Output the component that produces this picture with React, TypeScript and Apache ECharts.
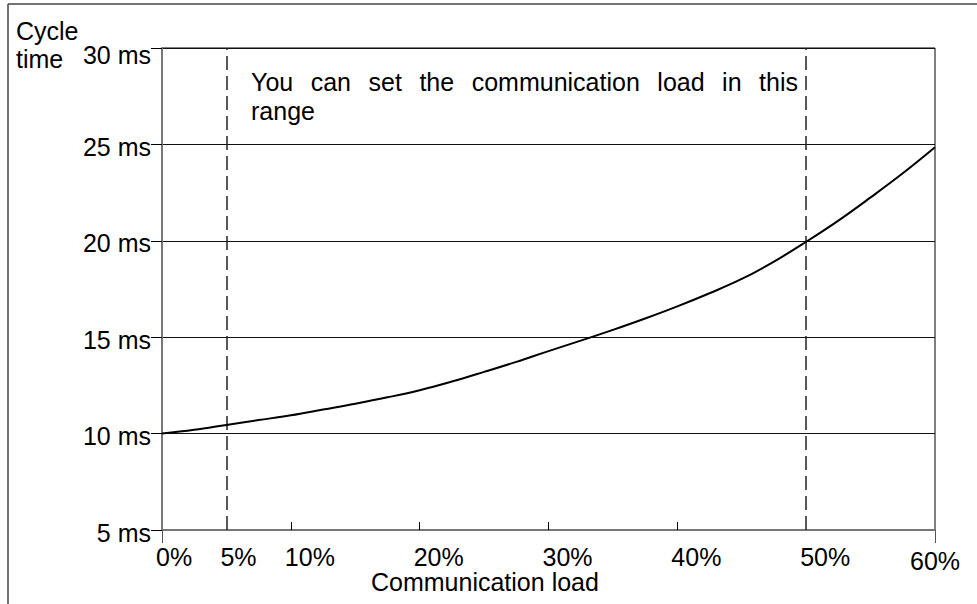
import React, { useEffect, useRef } from "react";
import * as echarts from "echarts";

const FONT = '"Liberation Sans", Arial, Helvetica, sans-serif';

// Communication load (%) and cycle time (ms)
const loadPct = [0, 2.5, 5, 7.5, 10, 12.5, 15, 17.5, 20, 22.5, 25, 27.5, 30, 32.5, 35, 37.5, 40, 42.5, 45, 47.5, 50, 52.5, 55, 57.5, 60];
const cycleMs = [10.0, 10.2, 10.45, 10.7, 10.95, 11.25, 11.55, 11.88, 12.25, 12.7, 13.2, 13.72, 14.28, 14.82, 15.38, 15.97, 16.6, 17.28, 18.02, 18.92, 19.95, 21.05, 22.25, 23.5, 24.85];

// Settable range boundaries
const rangeBounds = [5, 50];

// Tick labels
const xLabelValues = [0, 5, 10, 20, 30, 40, 50];
const xLastLabel = [60];
const xInnerTicks = [10, 20, 30, 40];
const xOuterTicks = [0, 60];
const yMin = 5;
const yMax = 30;
const yStep = 5;

const annotationLine1 = ["You", "can", "set", "the", "communication", "load", "in", "this"];
const annotationLine2 = "range";

export default function App() {
  const ref = useRef<HTMLDivElement>(null);

  useEffect(() => {
    if (!ref.current) return;
    const chart = echarts.init(ref.current, null, { renderer: "svg" });

    const fs = 25;
    const canvas = document.createElement("canvas");
    const ctx = canvas.getContext("2d")!;
    ctx.font = `${fs}px ${FONT}`;
    const widths = annotationLine1.map((w) => ctx.measureText(w).width);
    const lineStart = 251;
    const lineEnd = 798;
    const total = widths.reduce((a, b) => a + b, 0);
    const gap = (lineEnd - lineStart - total) / (annotationLine1.length - 1);
    const wordEls: any[] = [];
    let cx = lineStart;
    annotationLine1.forEach((w, i) => {
      wordEls.push({
        type: "text",
        x: cx,
        y: 82,
        style: { text: w, fontSize: fs, fontFamily: FONT, fill: "#000", align: "left", verticalAlign: "middle" },
      });
      cx += widths[i] + gap;
    });
    wordEls.push({
      type: "text",
      x: lineStart,
      y: 111,
      style: { text: annotationLine2, fontSize: fs, fontFamily: FONT, fill: "#000", align: "left", verticalAlign: "middle" },
    });

    const data = loadPct.map((x, i) => [x, cycleMs[i]]);

    chart.setOption({
      animation: false,
      backgroundColor: "#fff",
      grid: {
        left: 162,
        right: 42,
        top: 48,
        bottom: 74,
        show: true,
        borderColor: "#000",
        borderWidth: 1,
        backgroundColor: "transparent",
      },
      xAxis: [
        {
          type: "value",
          min: 0,
          max: 60,
          position: "bottom",
          axisLine: { show: true, onZero: false, lineStyle: { color: "#777", width: 2 } },
          axisTick: { show: true, inside: true, length: 8, customValues: xInnerTicks, lineStyle: { color: "#000", width: 1 } },
          axisLabel: {
            show: true,
            customValues: xLabelValues,
            formatter: (v: number) => `${v}%`,
            align: "left",
            padding: [0, 0, 0, -6],
            margin: 14,
            fontSize: fs,
            fontFamily: FONT,
            color: "#000",
          },
          splitLine: { show: false },
        },
        {
          type: "value",
          min: 0,
          max: 60,
          position: "bottom",
          axisLine: { show: false, onZero: false },
          axisTick: { show: true, inside: false, length: 13, customValues: xOuterTicks, lineStyle: { color: "#555", width: 1 } },
          axisLabel: {
            show: true,
            customValues: xLastLabel,
            formatter: (v: number) => `${v}%`,
            align: "center",
            margin: 18,
            fontSize: fs,
            fontFamily: FONT,
            color: "#000",
          },
          splitLine: { show: false },
        },
      ],
      yAxis: {
        type: "value",
        min: yMin,
        max: yMax,
        interval: yStep,
        axisLine: { show: true, lineStyle: { color: "#777", width: 2 } },
        axisTick: { show: true, inside: false, length: 11, lineStyle: { color: "#000", width: 1 } },
        splitLine: { show: true, lineStyle: { color: "#111", width: 1 } },
        axisLabel: {
          margin: 11,
          formatter: (v: number) => (v === yMax ? `{t|${v} ms}` : `{n|${v} ms}`),
          rich: {
            t: { fontSize: fs, fontFamily: FONT, color: "#000", padding: [14, 0, 0, 0] },
            n: { fontSize: fs, fontFamily: FONT, color: "#000", padding: [5, 0, 0, 0] },
          },
        },
      },
      series: [
        {
          type: "line",
          data,
          xAxisIndex: 0,
          showSymbol: false,
          smooth: 0.4,
          lineStyle: { color: "#000", width: 2 },
          z: 5,
          markLine: {
            silent: true,
            symbol: "none",
            label: { show: false },
            lineStyle: { color: "#222", width: 1.5, type: [14, 6] },
            data: rangeBounds.map((b) => ({ xAxis: b })),
          },
        },
      ],
      graphic: [
        { type: "line", shape: { x1: 8, y1: 4, x2: 977, y2: 4 }, style: { stroke: "#444", lineWidth: 1.5 } },
        { type: "line", shape: { x1: 8, y1: 4, x2: 8, y2: 604 }, style: { stroke: "#444", lineWidth: 1.5 } },
        {
          type: "text",
          x: 16,
          y: 17,
          style: { text: "Cycle\ntime", fontSize: fs, fontFamily: FONT, fill: "#000", lineHeight: 28, align: "left", verticalAlign: "top" },
        },
        {
          type: "text",
          x: 371,
          y: 582,
          style: { text: "Communication load", fontSize: fs, fontFamily: FONT, fill: "#000", align: "left", verticalAlign: "middle" },
        },
        ...wordEls,
      ],
    });

    return () => chart.dispose();
  }, []);

  return <div ref={ref} style={{ position: "absolute", left: 0, top: 0, width: 977, height: 604 }} />;
}
